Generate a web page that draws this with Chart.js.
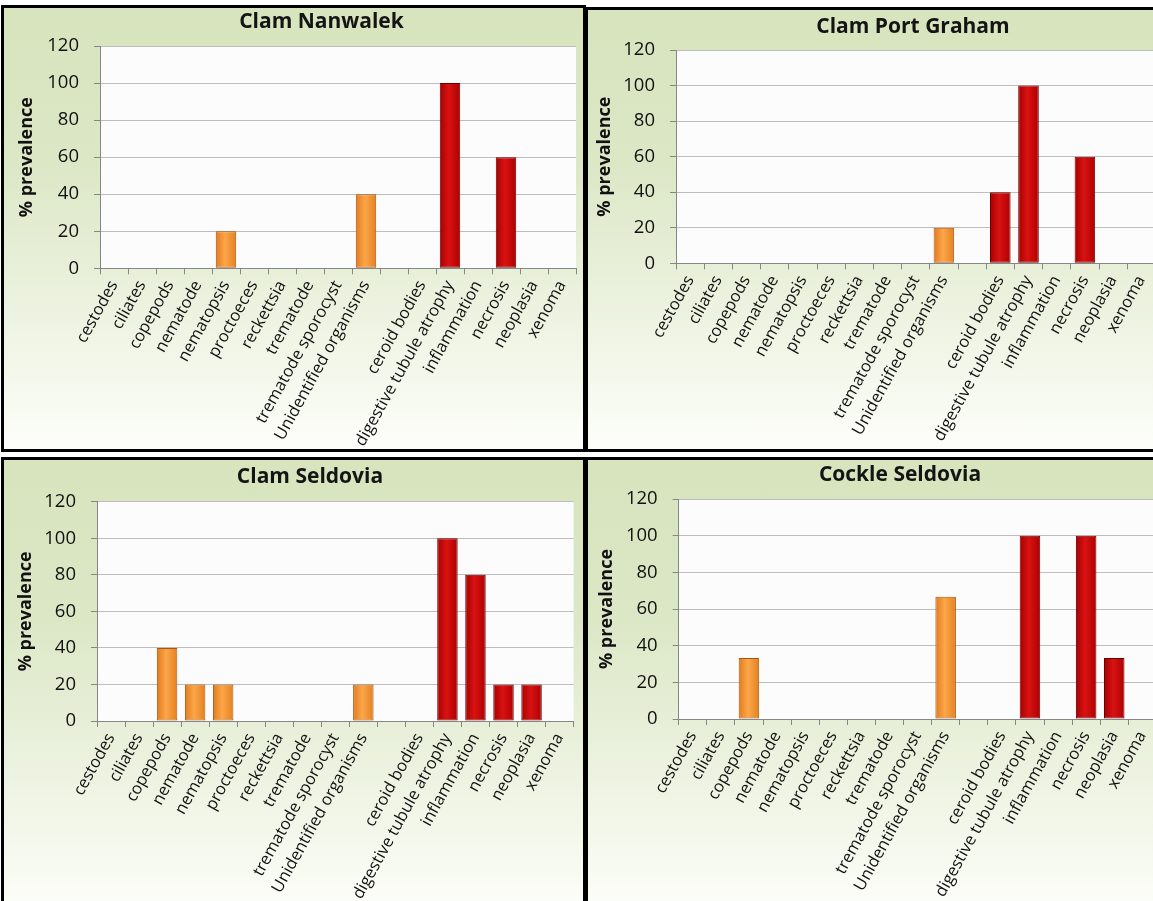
<!DOCTYPE html>
<html><head><meta charset="utf-8">
<script src="https://cdn.jsdelivr.net/npm/chart.js@4.4.1/dist/chart.umd.min.js"></script>
<style>
html,body{margin:0;padding:0;width:1153px;height:901px;overflow:hidden;background:#fff;}
.panel{position:absolute;box-sizing:border-box;border:3px solid #000;
  background:linear-gradient(to bottom,#D7E4BD 0%,#DCE7C6 35%,#EDF3E1 70%,#FDFEFA 100%);}
canvas{position:absolute;}
.title{position:absolute;width:400px;text-align:center;font:bold 21px/24px "Open Sans";color:#141414;white-space:nowrap;}
</style></head><body>
<div class="panel" style="left:1px;top:5px;width:585px;height:447px"></div>
<div class="panel" style="left:585px;top:7px;width:600px;height:445px"></div>
<div class="panel" style="left:1px;top:457px;width:585px;height:460px"></div>
<div class="panel" style="left:585px;top:457px;width:600px;height:460px"></div>
<canvas id="c0"></canvas><canvas id="c1"></canvas><canvas id="c2"></canvas><canvas id="c3"></canvas>
<div class="title" id="t0"></div><div class="title" id="t1"></div><div class="title" id="t2"></div><div class="title" id="t3"></div>
<script>
// ---------- data ----------
const categories = ['cestodes','ciliates','copepods','nematode','nematopsis','proctoeces','reckettsia',
  'trematode','trematode sporocyst','Unidentified organisms','','ceroid bodies',
  'digestive tubule atrophy','inflammation','necrosis','neoplasia','xenoma'];
const yTicks = [0,20,40,60,80,100,120];
const yAxisTitle = '% prevalence';
const chartTitles = ['Clam Nanwalek','Clam Port Graham','Clam Seldovia','Cockle Seldovia'];
const seriesNames = ['parasites','histopathology'];

const nanwalekParasites    = [0,0,0,0,20,0,0,0,0,40,null,null,null,null,null,null,null];
const nanwalekPathology    = [null,null,null,null,null,null,null,null,null,null,null,0,100,0,60,0,0];
const portGrahamParasites  = [0,0,0,0,0,0,0,0,0,20,null,null,null,null,null,null,null];
const portGrahamPathology  = [null,null,null,null,null,null,null,null,null,null,null,40,100,0,60,0,0];
const clamSeldoviaParasites= [0,0,40,20,20,0,0,0,0,20,null,null,null,null,null,null,null];
const clamSeldoviaPathology= [null,null,null,null,null,null,null,null,null,null,null,0,100,80,20,20,0];
const cockleParasites      = [0,0,33.3,0,0,0,0,0,0,66.7,null,null,null,null,null,null,null];
const cocklePathology      = [null,null,null,null,null,null,null,null,null,null,null,0,100,0,100,33.3,0];

const panelData = [
  [nanwalekParasites, nanwalekPathology],
  [portGrahamParasites, portGrahamPathology],
  [clamSeldoviaParasites, clamSeldoviaPathology],
  [cockleParasites, cocklePathology]
];

// ---------- layout (page pixels) ----------
const layouts = [
  {x0:0,   y0:0,   W:586, H:450, L:100,   R:576,    T:46,    B:268.3, ytc:27,   tx:321.5, ty:20.8},
  {x0:585, y0:0,   W:580, H:450, L:676,   R:1155.4, T:50,    B:263.3, ytc:604.7,tx:913,   ty:25.5},
  {x0:0,   y0:455, W:586, H:446, L:97,    R:573.6,  T:501.7, B:721,   ytc:25.5, tx:310,   ty:475.8},
  {x0:585, y0:455, W:580, H:446, L:678.7, R:1156.4, T:499,   B:719,   ytc:606.5,tx:900,   ty:473.5}
];

const FONT = '"Open Sans", "Noto Sans", sans-serif';
const TEXT = '#111';
const BAR_PCT = 0.73;
const fills = [
  ['#E27A1C','#FBA74A','#E58020'],   // orange
  ['#A80000','#D81212','#B00000']    // red
];
const borders = ['#A8560F','#6A0000'];

function barFill(k){
  return (ctx) => {
    const chart = ctx.chart, xs = chart.scales.x;
    if (!chart.chartArea || !xs || ctx.type !== 'data') return fills[k][1];
    const cx = xs.getPixelForValue(ctx.dataIndex);
    const w = xs.width / categories.length * BAR_PCT;
    const g = chart.ctx.createLinearGradient(cx - w/2, 0, cx + w/2, 0);
    g.addColorStop(0, fills[k][0]);
    g.addColorStop(0.45, fills[k][1]);
    g.addColorStop(1, fills[k][2]);
    return g;
  };
}

const plotBg = {
  id:'plotBg',
  beforeDraw(chart){
    const a = chart.chartArea, c = chart.ctx;
    c.save(); c.fillStyle = '#FCFCFC';
    c.fillRect(a.left, a.top, a.right - a.left, a.bottom - a.top);
    c.restore();
  }
};

layouts.forEach((lay, i) => {
  const cv = document.getElementById('c'+i);
  cv.width = lay.W; cv.height = lay.H;
  cv.style.left = lay.x0 + 'px'; cv.style.top = lay.y0 + 'px';
  cv.style.width = lay.W + 'px'; cv.style.height = lay.H + 'px';

  const t = document.getElementById('t'+i);
  t.textContent = chartTitles[i];
  t.style.left = (lay.tx - 200) + 'px';
  t.style.top = (lay.ty - 12.65) + 'px';

  const padL = 3;
  const titleSize = 18;
  const titleLH = titleSize * 1.2;
  const yTitlePadTop = Math.max(0, (lay.ytc - lay.x0) - padL - titleLH/2);
  const yWidth = (lay.L - lay.x0) - padL;
  const xHeight = lay.H - (lay.B - lay.y0);

  new Chart(cv, {
    type:'bar',
    data:{
      labels: categories,
      datasets: panelData[i].map((vals, k) => ({
        label: seriesNames[k],
        data: vals,
        backgroundColor: barFill(k),
        borderColor: borders[k],
        borderWidth: (ctx) => (ctx.raw ? 1 : 0),
        borderSkipped: false,
        grouped: false,
        categoryPercentage: 1,
        barPercentage: BAR_PCT
      }))
    },
    options:{
      responsive:false, animation:false, devicePixelRatio:1,
      layout:{padding:{left:padL, top:lay.T - lay.y0, right:(lay.x0 + lay.W) - lay.R, bottom:0}},
      plugins:{legend:{display:false}, title:{display:false}, tooltip:{enabled:false}},
      scales:{
        x:{
          offset:true,
          grid:{display:true, drawOnChartArea:false, drawTicks:true, tickLength:6, tickColor:'#868686', offset:true},
          border:{display:true, color:'#868686', width:1},
          ticks:{autoSkip:false, maxRotation:61, minRotation:61, padding:3,
                 font:{family:FONT, size:16.5}, color:TEXT},
          afterFit(s){ s.height = xHeight; }
        },
        y:{
          min: yTicks[0], max: yTicks[yTicks.length-1],
          grid:{color:'#BDBDBD', lineWidth:1, tickLength:6, tickColor:'#868686'},
          border:{display:true, color:'#868686', width:1},
          ticks:{stepSize: yTicks[1]-yTicks[0], padding:15, font:{family:FONT, size:18.5}, color:TEXT},
          title:{display:true, text:yAxisTitle, font:{family:FONT, size:titleSize, weight:'bold'}, color:TEXT,
                 padding:{top:yTitlePadTop, bottom:0}},
          afterFit(s){ s.width = yWidth; }
        }
      }
    },
    plugins:[plotBg]
  });
});
</script>
</body></html>
